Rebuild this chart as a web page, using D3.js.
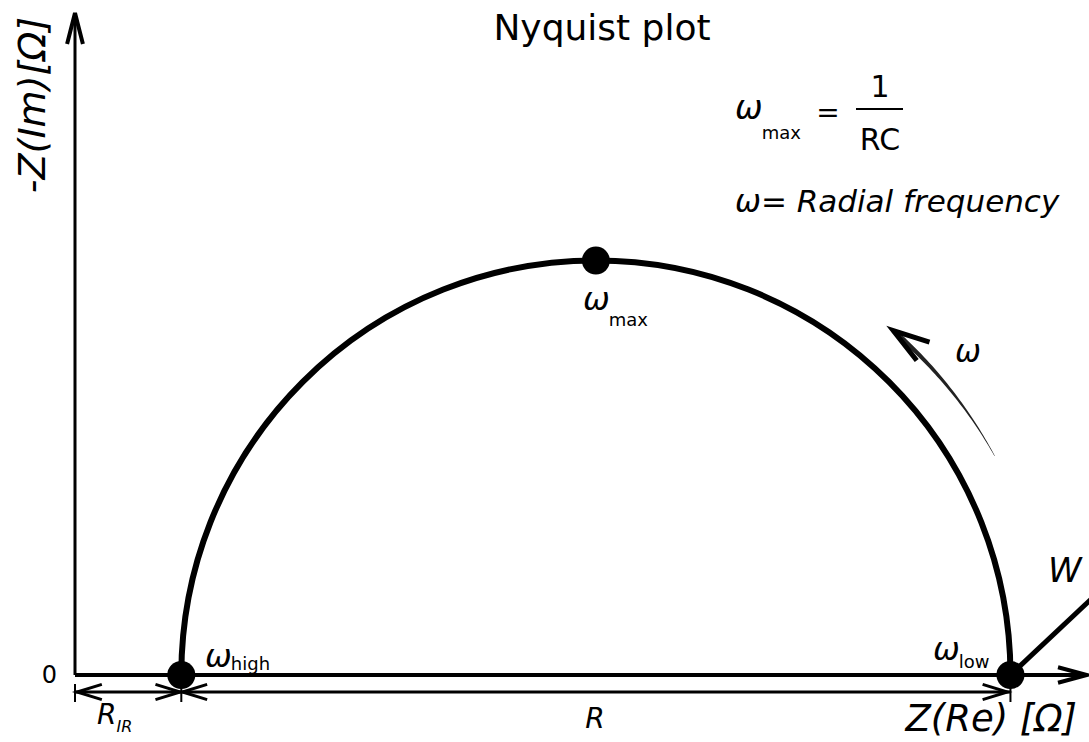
<!DOCTYPE html>
<html>
<head>
<meta charset="utf-8">
<script src="https://cdn.jsdelivr.net/npm/d3@7"></script>
<style>
  html, body { margin: 0; padding: 0; background: #fff; }
  svg { display: block; }
</style>
</head>
<body>
<svg id="chart" width="1089" height="742"></svg>
<script>
// Nyquist plot of a Randles-type cell: series resistance, one RC semicircle, Warburg tail.
const chartTitle = "Nyquist plot";
const seriesResistance = 10;          // R_IR, ohms
const chargeResistance = 78;          // R, ohms
const pointNames = ["high", "max", "low"];
const pointRe = [10, 49, 88];
const pointIm = [0, 39, 0];
const warburgRe = [88, 96.5];
const warburgIm = [0, 8];
const reDomain = [0, 95.2];
const imDomain = [0, 62.3];
const imTicks = [0];
const omegaArrowAngles = [28.8, 48.5]; // degrees, around the semicircle centre
const omegaArrowRadius = 42.8;         // ohms

const svg = d3.select("#chart");
const FONT = "'DejaVu Sans', Verdana, sans-serif";

const x = d3.scaleLinear().domain(reDomain).range([75, 1087]);
const y = d3.scaleLinear().domain(imDomain).range([675, 13]);

function chevron(tipX, tipY, angle, len, spread, width) {
  const back = angle + Math.PI;
  const a = [tipX + len * Math.cos(back - spread), tipY + len * Math.sin(back - spread)];
  const b = [tipX + len * Math.cos(back + spread), tipY + len * Math.sin(back + spread)];
  svg.append("path")
    .attr("d", `M${a[0]},${a[1]}L${tipX},${tipY}L${b[0]},${b[1]}`)
    .attr("fill", "none").attr("stroke", "#000")
    .attr("stroke-width", width).attr("stroke-linejoin", "miter");
}

// Axes
svg.append("line")
  .attr("x1", x(0)).attr("x2", x(0))
  .attr("y1", y(0)).attr("y2", y(imDomain[1]) + 2)
  .attr("stroke", "#000").attr("stroke-width", 3);
chevron(x(0), y(imDomain[1]), -Math.PI / 2, 32, 0.25, 4);

svg.append("line")
  .attr("x1", x(0)).attr("x2", x(reDomain[1]) - 2)
  .attr("y1", y(0)).attr("y2", y(0))
  .attr("stroke", "#000").attr("stroke-width", 4);
chevron(x(reDomain[1]), y(0), 0, 30, 0.26, 4);

const yAxis = svg.append("g")
  .attr("transform", `translate(${x(0)},0)`)
  .call(d3.axisLeft(y).tickValues(imTicks).tickSize(0).tickPadding(18));
yAxis.select(".domain").remove();
yAxis.selectAll("text")
  .attr("font-family", FONT).attr("font-size", 24).attr("fill", "#000");

// Dimension lines for R_IR and R
const dimY = 692;
const dimPts = [0, seriesResistance, seriesResistance + chargeResistance];
svg.append("line")
  .attr("x1", x(dimPts[0])).attr("x2", x(dimPts[2]))
  .attr("y1", dimY).attr("y2", dimY)
  .attr("stroke", "#000").attr("stroke-width", 3);
dimPts.forEach(v => {
  svg.append("line")
    .attr("x1", x(v)).attr("x2", x(v))
    .attr("y1", dimY - 8).attr("y2", dimY + 10)
    .attr("stroke", "#000").attr("stroke-width", 2);
});
chevron(x(dimPts[0]) + 2, dimY, Math.PI, 26, 0.3, 3);
chevron(x(dimPts[1]) - 1, dimY, 0, 26, 0.3, 3);
chevron(x(dimPts[1]) + 1, dimY, Math.PI, 26, 0.3, 3);
chevron(x(dimPts[2]) - 3, dimY, 0, 26, 0.3, 3);

// Semicircle
const cx = x(seriesResistance + chargeResistance / 2);
const cy = y(0);
const r = x(seriesResistance + chargeResistance) - cx;
const arcPath = d3.path();
arcPath.moveTo(x(seriesResistance), cy);
arcPath.arc(cx, cy, r, Math.PI, 2 * Math.PI, false);
svg.append("path")
  .attr("d", arcPath.toString())
  .attr("fill", "none").attr("stroke", "#000").attr("stroke-width", 6);

// Warburg line
svg.append("line")
  .attr("x1", x(warburgRe[0])).attr("y1", y(warburgIm[0]))
  .attr("x2", x(warburgRe[1])).attr("y2", y(warburgIm[1]))
  .attr("stroke", "#000").attr("stroke-width", 5);

// Key frequency points
svg.selectAll("circle.pt")
  .data(pointNames)
  .join("circle")
  .attr("class", "pt")
  .attr("cx", (d, i) => x(pointRe[i]))
  .attr("cy", (d, i) => y(pointIm[i]))
  .attr("r", 14)
  .attr("fill", "#000");

// Tapered arrow showing increasing frequency
const arrowR = x(omegaArrowRadius) - x(0);
const a0 = omegaArrowAngles[0] * Math.PI / 180;
const a1 = omegaArrowAngles[1] * Math.PI / 180;
const outer = [], inner = [];
const N = 40;
for (let k = 0; k <= N; k++) {
  const t = k / N;
  const a = a0 + t * (a1 - a0);
  const h = 0.2 + t * 2.3;
  outer.push([cx + (arrowR + h) * Math.cos(a), cy - (arrowR + h) * Math.sin(a)]);
  inner.push([cx + (arrowR - h) * Math.cos(a), cy - (arrowR - h) * Math.sin(a)]);
}
svg.append("path")
  .attr("d", "M" + outer.map(p => p.join(",")).join("L") + "L" + inner.reverse().map(p => p.join(",")).join("L") + "Z")
  .attr("fill", "#222");
const aTip = a1 + 0.012;
const tipX = cx + arrowR * Math.cos(aTip);
const tipY = cy - arrowR * Math.sin(aTip);
svg.append("line")
  .attr("x1", cx + arrowR * Math.cos(a1 - 0.02)).attr("y1", cy - arrowR * Math.sin(a1 - 0.02))
  .attr("x2", tipX).attr("y2", tipY)
  .attr("stroke", "#222").attr("stroke-width", 4.5);
const dir = Math.atan2(-Math.cos(a1), -Math.sin(a1)) - 0.12;
chevron(tipX, tipY, dir, 38, 0.3, 5);

// Text
function txt(xp, yp, s, size, opts = {}) {
  const t = svg.append("text")
    .attr("x", xp).attr("y", yp)
    .attr("font-family", FONT).attr("font-size", size)
    .attr("fill", "#000")
    .attr("text-anchor", opts.anchor || "start")
    .attr("font-style", opts.italic ? "italic" : "normal");
  t.text(s);
  return t;
}
function omegaLabel(xp, yp, sub, size, subSize, dy) {
  const t = svg.append("text")
    .attr("x", xp).attr("y", yp)
    .attr("font-family", FONT).attr("fill", "#000");
  t.append("tspan").attr("font-size", size).attr("font-style", "italic").text("ω");
  t.append("tspan").attr("font-size", subSize).attr("dx", -1).attr("dy", dy).text(sub);
  return t;
}

txt(602, 40, chartTitle, 36, { anchor: "middle" });

svg.append("text")
  .attr("transform", "translate(45,105) rotate(-90)")
  .attr("font-family", FONT).attr("font-size", 38)
  .attr("font-style", "italic").attr("text-anchor", "middle")
  .text("-Z(Im)[Ω]");
txt(1077, 731, "Z(Re) [Ω]", 37, { anchor: "end", italic: true });

// Formula
omegaLabel(735, 119, "max", 33, 18, 20);
txt(828, 122, "=", 28, { anchor: "middle" });
txt(880, 97, "1", 30, { anchor: "middle" });
svg.append("line").attr("x1", 856).attr("x2", 903).attr("y1", 109).attr("y2", 109)
  .attr("stroke", "#000").attr("stroke-width", 2);
txt(880, 150, "RC", 30, { anchor: "middle" });
txt(735, 212, "ω= Radial frequency", 31, { italic: true });

// Point labels
const labelPos = [[205, 667, 3], [583, 310, 16], [933, 660, 8]];
pointNames.forEach((n, i) => {
  omegaLabel(labelPos[i][0], labelPos[i][1], n, 32, 18, labelPos[i][2]);
});

// ω next to the arrow, Warburg label
txt(955, 362, "ω", 31, { italic: true });
txt(1048, 582, "W", 34, { italic: true });

// Dimension labels
const rir = svg.append("text").attr("x", 97).attr("y", 724)
  .attr("font-family", FONT).attr("font-style", "italic").attr("fill", "#000");
rir.append("tspan").attr("font-size", 28).text("R");
rir.append("tspan").attr("font-size", 16).attr("dy", 8).text("IR");
txt(595, 728, "R", 28, { anchor: "middle", italic: true });
</script>
</body>
</html>
